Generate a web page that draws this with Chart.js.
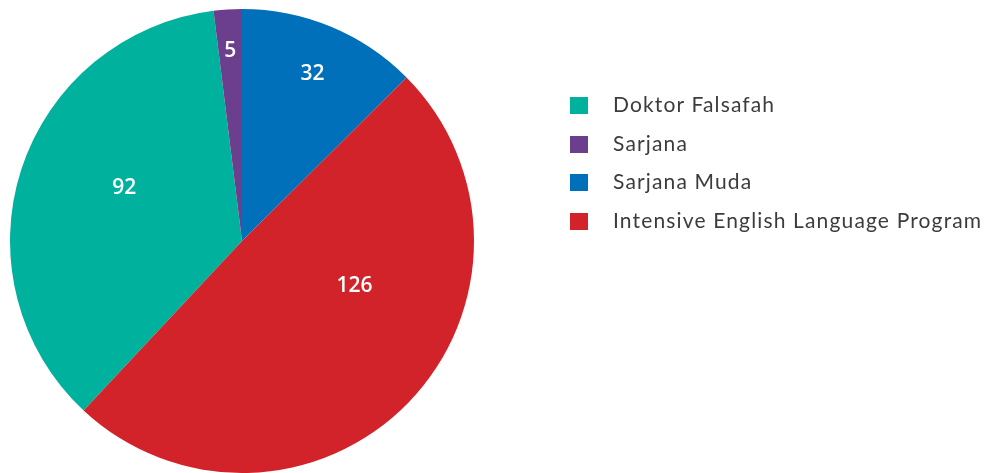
<!DOCTYPE html>
<html>
<head>
<meta charset="utf-8">
<script src="https://cdn.jsdelivr.net/npm/chart.js@4"></script>
<style>
    html, body { margin: 0; padding: 0; background: #fff; }
    #wrap { position: relative; width: 993px; height: 473px; }
    #legend { position: absolute; left: 570px; top: 84px; margin: 0; padding: 0; list-style: none;
        font-family: 'Lato', sans-serif; font-size: 21px; letter-spacing: 1.15px; color: #3c3c3c; }
    #legend li { height: 38.7px; display: flex; align-items: center; white-space: nowrap; }
    #legend .box { width: 18px; height: 17px; margin-right: 25px; flex: none; position: relative; top: 2px; }
</style>
</head>
<body>
<div id="wrap">
    <canvas id="pieChart" width="993" height="473"></canvas>
    <ul id="legend"></ul>
</div>
<script>
const categories = ['Doktor Falsafah', 'Sarjana', 'Sarjana Muda', 'Intensive English Language Program'];
const values = [92, 5, 32, 126];
const colors = ['#00b29e', '#6c3f8e', '#0070bb', '#d2232a'];

// label placement per slice: radius fraction and angle shift (deg) from slice middle
const labelRadius = [0.56, 0.83, 0.79, 0.52];
const labelShift = [7, 0, 0, -23];

document.addEventListener('DOMContentLoaded', function() {
    const total = values.reduce((a, b) => a + b, 0);
    // Sarjana Muda begins at 12 o'clock
    const rotation = -(values[0] + values[1]) / total * 360;

    const sliceLabels = {
        id: 'sliceLabels',
        afterDatasetsDraw(chart) {
            const ctx = chart.ctx;
            const meta = chart.getDatasetMeta(0);
            ctx.save();
            ctx.fillStyle = '#fff';
            ctx.font = '600 21px "Open Sans", sans-serif';
            ctx.textAlign = 'center';
            ctx.textBaseline = 'middle';
            meta.data.forEach((arc, i) => {
                const p = arc.getProps(['x', 'y', 'startAngle', 'endAngle', 'outerRadius'], true);
                const mid = (p.startAngle + p.endAngle) / 2 + labelShift[i] * Math.PI / 180;
                const r = p.outerRadius * labelRadius[i];
                ctx.fillText(String(values[i]), p.x + Math.cos(mid) * r, p.y + Math.sin(mid) * r + 2);
            });
            ctx.restore();
        }
    };

    new Chart(document.getElementById('pieChart'), {
        type: 'pie',
        data: {
            labels: categories,
            datasets: [{
                data: values,
                backgroundColor: colors,
                borderWidth: 0
            }]
        },
        options: {
            responsive: false,
            animation: false,
            rotation: rotation,
            layout: { padding: { left: 10, top: 9, right: 519, bottom: 0 } },
            plugins: {
                legend: { display: false },
                tooltip: { enabled: false }
            }
        },
        plugins: [sliceLabels]
    });

    const legend = document.getElementById('legend');
    categories.forEach((name, i) => {
        const li = document.createElement('li');
        const box = document.createElement('span');
        box.className = 'box';
        box.style.background = colors[i];
        li.appendChild(box);
        li.appendChild(document.createTextNode(name));
        legend.appendChild(li);
    });
});
</script>
</body>
</html>
